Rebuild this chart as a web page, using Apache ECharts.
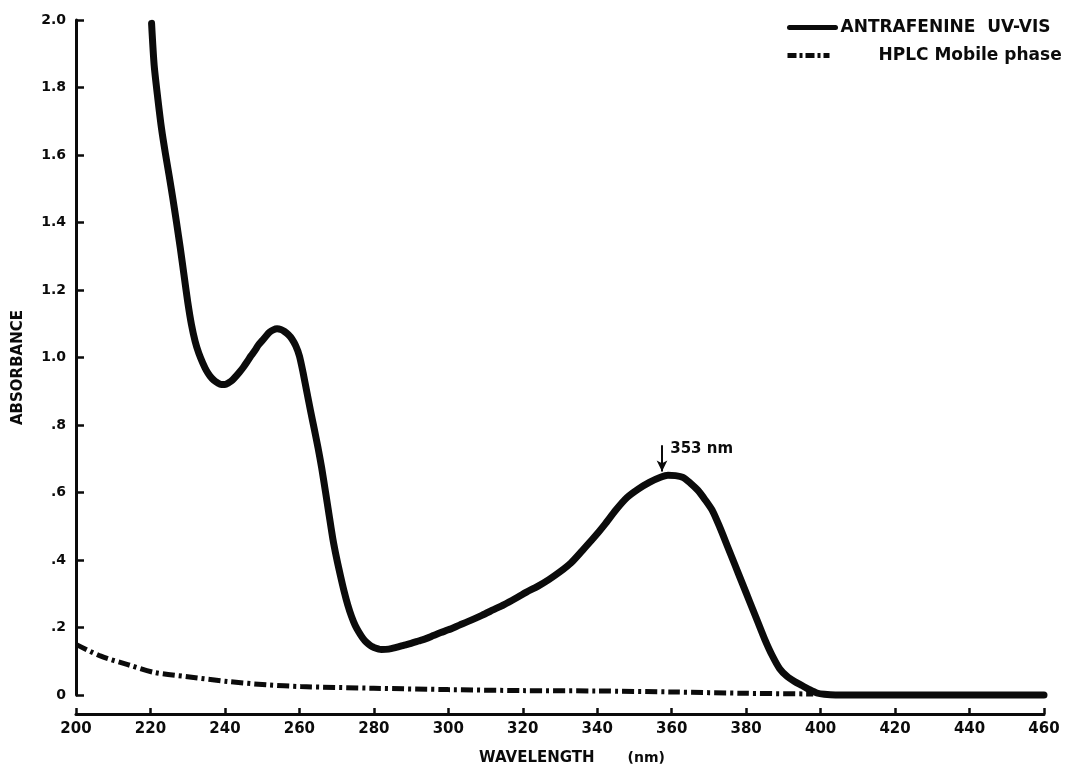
<!DOCTYPE html>
<html><head><meta charset="utf-8">
<script src="https://cdn.jsdelivr.net/npm/echarts@6/dist/echarts.min.js"></script>
<style>html,body{margin:0;padding:0;background:#fff}#c{width:1068px;height:771px}</style>
</head><body><div id="c"></div>
<script>
// ---- data ----
const antraName = 'ANTRAFENINE  UV-VIS';
const hplcName = 'HPLC Mobile phase';

const antraX = [220.3, 221, 222, 223, 224, 225, 226, 227, 228, 229, 230, 231, 232, 233, 234, 235, 236, 237, 238, 239, 240, 241, 242, 243, 244, 245, 246, 247, 248, 249, 250, 251, 252, 253, 254, 255, 256, 257, 258, 259, 260, 261, 262, 263, 264, 265, 266, 267, 268, 269, 270, 271, 272, 273, 274, 275, 276, 277, 278, 279, 280, 282, 284, 286, 288, 290, 292, 294, 296, 298, 300, 303, 306, 309, 312, 315, 318, 321, 324, 327, 330, 333, 336, 339, 342, 345, 348, 351, 354, 357, 359, 361, 363, 365, 367, 369, 371, 373, 375, 377, 379, 381, 383, 385, 387, 389, 391, 393, 395, 397, 399, 401, 404, 420, 440, 460];
const antraY = [1.99, 1.865, 1.765, 1.676, 1.605, 1.54, 1.472, 1.40, 1.325, 1.245, 1.165, 1.098, 1.048, 1.012, 0.985, 0.962, 0.945, 0.933, 0.925, 0.92, 0.92, 0.925, 0.933, 0.945, 0.958, 0.972, 0.988, 1.005, 1.02, 1.037, 1.05, 1.063, 1.075, 1.082, 1.085, 1.083, 1.077, 1.068, 1.055, 1.035, 1.005, 0.955, 0.898, 0.842, 0.788, 0.733, 0.672, 0.603, 0.532, 0.462, 0.405, 0.355, 0.308, 0.267, 0.233, 0.206, 0.186, 0.169, 0.156, 0.147, 0.141, 0.135, 0.136, 0.141, 0.147, 0.153, 0.16, 0.167, 0.176, 0.185, 0.193, 0.207, 0.221, 0.236, 0.252, 0.268, 0.286, 0.305, 0.322, 0.342, 0.365, 0.392, 0.428, 0.465, 0.505, 0.548, 0.585, 0.61, 0.63, 0.645, 0.651, 0.65, 0.645, 0.628, 0.607, 0.578, 0.545, 0.495, 0.44, 0.385, 0.33, 0.275, 0.22, 0.165, 0.117, 0.078, 0.055, 0.04, 0.028, 0.016, 0.006, 0.002, 0, 0, 0, 0];

const hplcX = [200, 206.7, 213.9, 221, 230, 240.7, 251.4, 260.4, 280, 300, 320, 340, 360, 380, 398];
const hplcY = [0.15, 0.115, 0.09, 0.067, 0.054, 0.04, 0.03, 0.025, 0.02, 0.016, 0.013, 0.012, 0.009, 0.005, 0.003];

const xTickValues = [200, 220, 240, 260, 280, 300, 320, 340, 360, 380, 400, 420, 440, 460];
const yTickValues = [0, 0.2, 0.4, 0.6, 0.8, 1.0, 1.2, 1.4, 1.6, 1.8, 2.0];
const yTickLabels = ['0', '.2', '.4', '.6', '.8', '1.0', '1.2', '1.4', '1.6', '1.8', '2.0'];

const peakLabel = '353 nm';
const arrowFrom = [357.4, 0.74];
const arrowTo = [357.4, 0.662];
const peakLabelAt = [359.6, 0.728];

// ---- chart ----
const ink = '#0b0b0b';
const F = 'DejaVu Sans';
const zip = (a, b) => a.map((v, i) => [v, b[i]]);

const chart = echarts.init(document.getElementById('c'), null, {renderer: 'canvas'});
chart.setOption({
  backgroundColor: '#ffffff',
  animation: false,
  grid: {left: 76, right: 24, top: 20, bottom: 70, containLabel: false},
  legend: [
    {
      data: [antraName], left: 782, top: 14, itemWidth: 46, itemHeight: 16, itemGap: 0,
      textStyle: {color: ink, fontFamily: F, fontWeight: 'bold', fontSize: 17},
      lineStyle: {width: 5, color: ink},
      itemStyle: {opacity: 0}, selectedMode: false
    },
    {
      data: [hplcName], left: 780, top: 42, itemWidth: 42, itemHeight: 16, itemGap: 0,
      textStyle: {color: ink, fontFamily: F, fontWeight: 'bold', fontSize: 17, padding: [0, 0, 0, 44]},
      lineStyle: {width: 5, color: ink, type: [9, 3, 3, 3]},
      itemStyle: {opacity: 0}, selectedMode: false
    }
  ],
  xAxis: {
    type: 'value', min: 200, max: 460, interval: 20, offset: 19,
    axisLine: {show: true, onZero: false, lineStyle: {color: ink, width: 3}},
    axisTick: {show: true, inside: true, length: 6, lineStyle: {color: ink, width: 2.5}},
    axisLabel: {color: ink, fontFamily: F, fontWeight: 'bold', fontSize: 15, margin: 8,
      customValues: xTickValues},
    splitLine: {show: false},
    name: '{a|WAVELENGTH}{b|(nm)}', nameLocation: 'middle', nameGap: 37,
    nameTextStyle: {rich: {
      a: {color: ink, fontFamily: F, fontWeight: 'bold', fontSize: 15, padding: [0, 0, 0, 24]},
      b: {color: ink, fontFamily: F, fontWeight: 'bold', fontSize: 14, padding: [0, 0, 0, 33]}
    }}
  },
  yAxis: {
    type: 'value', min: 0, max: 2, interval: 0.2,
    axisLine: {show: true, onZero: false, lineStyle: {color: ink, width: 3}},
    axisTick: {show: true, inside: true, length: 8, lineStyle: {color: ink, width: 2.5}},
    axisLabel: {color: ink, fontFamily: F, fontWeight: 'bold', fontSize: 14, margin: 10,
      formatter: v => {
        const i = yTickValues.findIndex(t => Math.abs(t - v) < 1e-6);
        return i >= 0 ? yTickLabels[i] : '';
      }},
    splitLine: {show: false},
    name: 'ABSORBANCE', nameLocation: 'middle', nameGap: 50,
    nameTextStyle: {color: ink, fontFamily: F, fontWeight: 'bold', fontSize: 15, padding: [0, 20, 0, 0]}
  },
  series: [
    {
      name: antraName, type: 'line', data: zip(antraX, antraY),
      showSymbol: false, symbol: 'none', smooth: 0.25, clip: false,
      lineStyle: {color: ink, width: 7, cap: 'round', join: 'round'},
      itemStyle: {color: ink},
      z: 3,
      markLine: {
        silent: true, symbol: ['none', 'arrow'], symbolSize: [8, 11],
        lineStyle: {color: ink, width: 2, type: 'solid'},
        label: {show: false},
        data: [[{coord: arrowFrom}, {coord: arrowTo}]]
      },
      markPoint: {
        silent: true, symbol: 'circle', symbolSize: 0,
        label: {show: true, position: 'right', distance: 0, color: ink, fontFamily: F,
          fontWeight: 'bold', fontSize: 15, formatter: peakLabel},
        data: [{coord: peakLabelAt}]
      }
    },
    {
      name: hplcName, type: 'line', data: zip(hplcX, hplcY),
      showSymbol: false, symbol: 'none', smooth: 0.3, clip: false,
      lineStyle: {color: ink, width: 5, type: [12, 4, 3, 4], cap: 'butt'},
      itemStyle: {color: ink},
      z: 2
    }
  ]
});
</script>
</body></html>
